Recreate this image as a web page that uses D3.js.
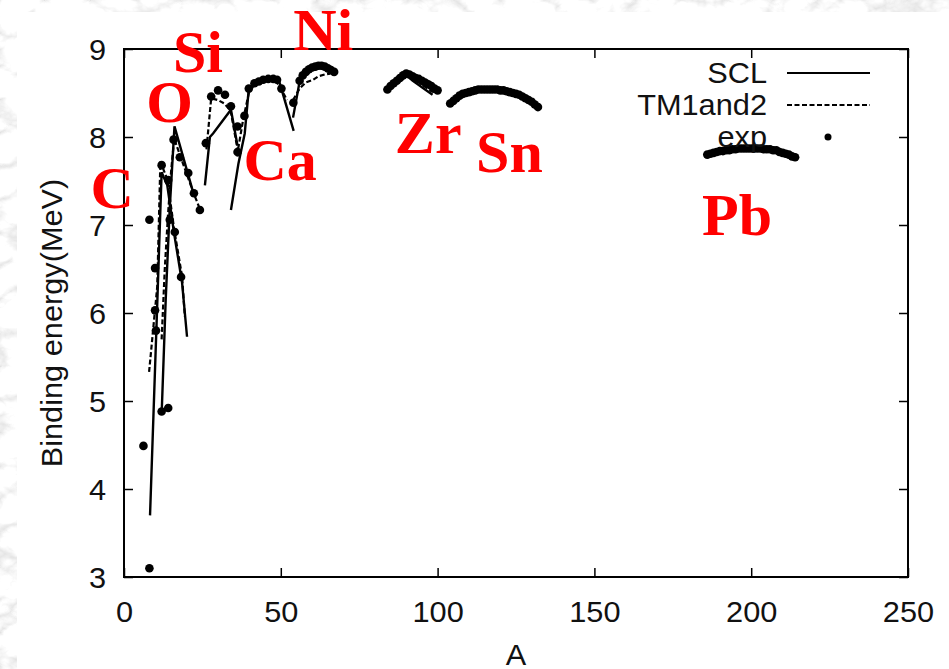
<!DOCTYPE html>
<html>
<head>
<meta charset="utf-8">
<script src="https://cdn.jsdelivr.net/npm/d3@7"></script>
<style>
  body { margin: 0; overflow: hidden; }
  svg { display: block; }
</style>
</head>
<body>
<div id="container"></div>
<script>
/* CONSTANTS AND GLOBALS */
const width = 949,
  height = 669,
  margin = {top: 49, bottom: 92, left: 124, right: 41};

/* DATA (A, binding energy per nucleon in MeV) */
const xTicks = [0, 50, 100, 150, 200, 250];
const yTicks = [3, 4, 5, 6, 7, 8, 9];

// SCL (solid line), one array per isotope chain
const sclC  = [[8.3, 3.70], [10.6, 6.10], [12.0, 7.60], [13.8, 7.45], [16.0, 6.90], [18.5, 6.35], [20.1, 5.73]];
const sclO  = [[12.0, 4.85], [13.3, 6.15], [14.6, 7.20], [16.1, 8.12], [22.3, 7.34]];
const sclSi = [[25.8, 7.45], [27.4, 8.00], [28.4, 8.04], [34.1, 8.31], [36.2, 7.90]];
const sclCa = [[34.1, 7.17], [36.5, 7.70], [38.5, 8.04], [39.8, 8.55], [42.0, 8.62], [46.0, 8.66], [49.2, 8.67], [54.1, 8.07]];
const sclNi = [[53.9, 8.22], [56.0, 8.63], [58.0, 8.72], [60.0, 8.78], [62.0, 8.80], [64.0, 8.79], [66.0, 8.75]];
const sclZr = [[84, 8.52], [86, 8.60], [88, 8.66], [90, 8.71], [92, 8.64], [94, 8.59], [96, 8.54], [98.4, 8.48]];
const sclSn = [[104, 8.37], [108, 8.47], [112, 8.52], [116, 8.53], [120, 8.52], [124, 8.49], [128, 8.43], [132, 8.33]];
const sclPb = [[186, 7.79], [192, 7.84], [198, 7.87], [204, 7.86], [208, 7.85], [214, 7.76]];

// TM1and2 (dashed line)
const tmC  = [[8.0, 5.33], [10.6, 6.30], [11.6, 7.72], [13.8, 7.52], [16.0, 6.95], [18.5, 6.42], [19.4, 5.96]];
const tmO  = [[12.0, 5.70], [13.0, 6.50], [14.0, 7.10], [15.0, 7.60], [16.0, 7.98], [18.0, 7.78], [20.0, 7.58], [22.0, 7.38], [24.0, 7.20]];
const tmSi = [[26.3, 7.86], [27.8, 8.44], [30.0, 8.42], [32.0, 8.38], [34.0, 8.30], [36.6, 7.78]];
const tmCa = [[36.0, 7.78], [38.0, 8.20], [40.0, 8.53], [42.0, 8.60], [44.0, 8.64], [46.0, 8.65], [48.0, 8.66], [50.0, 8.55], [52.0, 8.42]];
const tmNi = [[53.9, 8.42], [56.0, 8.55], [58.0, 8.62], [60.3, 8.65], [62.0, 8.69], [64.0, 8.71], [65.7, 8.72]];
const tmZr = [[84, 8.55], [86, 8.62], [88, 8.68], [90, 8.72], [92, 8.67], [94, 8.62], [96, 8.57], [98, 8.52], [100, 8.50]];
const tmSn = [[104, 8.39], [108, 8.48], [112, 8.53], [116, 8.54], [120, 8.53], [124, 8.50], [128, 8.44], [132, 8.35]];
const tmPb = [[186, 7.80], [192, 7.85], [198, 7.87], [204, 7.87], [208, 7.85], [214, 7.77]];

// exp (points)
const expC  = [[6.2, 4.49], [8.1, 7.06], [8.1, 3.10], [9.9, 6.03], [10.2, 5.80], [9.9, 6.51], [12.0, 7.68], [14.1, 7.51], [16.2, 6.92], [18.2, 6.41]];
const expO  = [[12.0, 4.88], [14.1, 4.92], [14.6, 7.06], [15.8, 7.97], [17.8, 7.77], [20.5, 7.59], [22.3, 7.36]];
const expSi = [[24.2, 7.17], [26.1, 7.93], [27.8, 8.46], [30.0, 8.53], [32.2, 8.48], [34.1, 8.35], [36.2, 8.12]];
const expCa = [[36.2, 7.83], [38.4, 8.24], [39.8, 8.55], [41.6, 8.61], [43.0, 8.63], [44.4, 8.65], [46.0, 8.66], [47.6, 8.66], [48.8, 8.65], [50.2, 8.55]];
const expNi = [[54, 8.39], [56, 8.64], [57, 8.70], [58, 8.74], [59, 8.77], [60, 8.79], [61, 8.80], [62, 8.81], [63, 8.81], [64, 8.80], [65, 8.78], [66, 8.76], [67, 8.74]];
const expZr = [[84, 8.54], [85, 8.58], [86, 8.61], [87, 8.64], [88, 8.67], [89, 8.70], [90, 8.72], [91, 8.71], [92, 8.69], [93, 8.67],
  [94, 8.66], [95, 8.64], [96, 8.62], [97, 8.60], [98, 8.58], [99, 8.55], [100, 8.53]];
const expSn = [[104, 8.38], [105, 8.41], [106, 8.44], [107, 8.47], [108, 8.49], [109, 8.50], [110, 8.51], [111, 8.52], [112, 8.53], [113, 8.54],
  [114, 8.54], [115, 8.54], [116, 8.54], [117, 8.54], [118, 8.54], [119, 8.54], [120, 8.53], [121, 8.53], [122, 8.52], [123, 8.51],
  [124, 8.50], [125, 8.49], [126, 8.48], [127, 8.46], [128, 8.44], [129, 8.42], [130, 8.40], [131, 8.37], [132, 8.34]];
const expPb = [[186, 7.80], [187, 7.81], [188, 7.82], [189, 7.83], [190, 7.84], [191, 7.84], [192, 7.85], [193, 7.85], [194, 7.86], [195, 7.86],
  [196, 7.87], [197, 7.87], [198, 7.87], [199, 7.87], [200, 7.87], [201, 7.87], [202, 7.87], [203, 7.87], [204, 7.86], [205, 7.86],
  [206, 7.86], [207, 7.85], [208, 7.85], [209, 7.83], [210, 7.82], [211, 7.81], [212, 7.80], [213, 7.78], [214, 7.77]];

const sclChains = [sclC, sclO, sclSi, sclCa, sclNi, sclZr, sclSn, sclPb];
const tmChains  = [tmC, tmO, tmSi, tmCa, tmNi, tmZr, tmSn, tmPb];
const expPoints = [].concat(expC, expO, expSi, expCa, expNi, expZr, expSn, expPb);

// element names and where they sit (A, E of the label's baseline centre)
const elements = ["C", "O", "Si", "Ca", "Ni", "Zr", "Sn", "Pb"];
const elemA = [-3.8, 14.5, 23.6, 49.8, 63.5, 97.0, 122.9, 195.5];
const elemE = [7.19, 8.17, 8.74, 7.51, 8.99, 7.82, 7.60, 6.89];

const legendNames = ["SCL", "TM1and2", "exp"];

/* SCALES */
const xScale = d3.scaleLinear()
  .domain([0, 250])
  .range([margin.left, width - margin.right]);

const yScale = d3.scaleLinear()
  .domain([3, 9])
  .range([height - margin.bottom, margin.top]);

/* SVG */
const svg = d3.select("#container")
  .append("svg")
  .attr("width", width)
  .attr("height", height);

// marble-ish grey backdrop
const defs = svg.append("defs");
const marble = defs.append("filter")
  .attr("id", "marble")
  .attr("x", 0).attr("y", 0).attr("width", 1).attr("height", 1);
marble.append("feTurbulence")
  .attr("type", "turbulence")
  .attr("baseFrequency", "0.022 0.03")
  .attr("numOctaves", 4)
  .attr("seed", 11);
marble.append("feColorMatrix")
  .attr("type", "matrix")
  .attr("values", "0.8 0 0 0 0.76  0.8 0 0 0 0.76  0.8 0 0 0 0.76  0 0 0 0 1");

svg.append("rect")
  .attr("width", width)
  .attr("height", height)
  .attr("fill", "#d6d6d6")
  .attr("filter", "url(#marble)");

svg.append("rect")
  .attr("x", 17)
  .attr("y", 12)
  .attr("width", width - 17)
  .attr("height", height - 12)
  .attr("fill", "white");

const font = "'Liberation Sans', Arial, Helvetica, sans-serif";
const stretch = "scale(1.06,1)";

/* AXES (gnuplot style: ticks inside, mirrored) */
const xAxisGroup = svg.append("g")
  .attr("transform", `translate(0, ${height - margin.bottom})`)
  .call(d3.axisBottom(xScale).tickValues(xTicks).tickSize(-9).tickPadding(24).tickFormat(d3.format("d")));

svg.append("g")
  .attr("transform", `translate(0, ${margin.top})`)
  .call(d3.axisTop(xScale).tickValues(xTicks).tickSize(-9).tickFormat(""));

const yAxisGroup = svg.append("g")
  .attr("transform", `translate(${margin.left}, 0)`)
  .call(d3.axisLeft(yScale).tickValues(yTicks).tickSize(-9).tickPadding(17).tickFormat(d3.format("d")));

svg.append("g")
  .attr("transform", `translate(${width - margin.right}, 0)`)
  .call(d3.axisRight(yScale).tickValues(yTicks).tickSize(-9).tickFormat(""));

svg.selectAll(".domain").remove();
svg.selectAll(".tick line").attr("stroke", "#000").attr("stroke-width", 1.5);
svg.selectAll(".tick text")
  .attr("fill", "#111")
  .style("font-family", font)
  .style("font-size", "29px")
  .attr("transform", stretch);
xAxisGroup.selectAll(".tick text").attr("dy", "0.72em");
yAxisGroup.selectAll(".tick text").attr("dy", "0.36em");

// frame
svg.append("rect")
  .attr("x", xScale(0))
  .attr("y", yScale(9))
  .attr("width", xScale(250) - xScale(0))
  .attr("height", yScale(3) - yScale(9))
  .attr("fill", "none")
  .attr("stroke", "#000")
  .attr("stroke-width", 2);

// axis titles
svg.append("text")
  .attr("transform", `translate(${(xScale(0) + xScale(250)) / 2}, 665) ${stretch}`)
  .attr("text-anchor", "middle")
  .style("font-family", font)
  .style("font-size", "29px")
  .attr("fill", "#111")
  .text("A");

svg.append("text")
  .attr("transform", `translate(62, ${(yScale(3) + yScale(9)) / 2 + 10}) rotate(-90) ${stretch}`)
  .attr("text-anchor", "middle")
  .style("font-family", font)
  .style("font-size", "29px")
  .attr("fill", "#111")
  .text("Binding energy(MeV)");

/* LINES */
const lineGen = d3.line()
  .x(d => xScale(d[0]))
  .y(d => yScale(d[1]));

svg.selectAll(".scl")
  .data(sclChains)
  .join("path")
  .attr("class", "scl")
  .attr("fill", "none")
  .attr("stroke", "#000")
  .attr("stroke-width", 2.4)
  .attr("d", d => lineGen(d));

svg.selectAll(".tm")
  .data(tmChains)
  .join("path")
  .attr("class", "tm")
  .attr("fill", "none")
  .attr("stroke", "#000")
  .attr("stroke-width", 2.2)
  .attr("stroke-dasharray", "5,2.5")
  .attr("d", d => lineGen(d));

/* POINTS */
svg.selectAll(".exp")
  .data(expPoints)
  .join("circle")
  .attr("class", "exp")
  .attr("cx", d => xScale(d[0]))
  .attr("cy", d => yScale(d[1]))
  .attr("r", 4.3)
  .attr("fill", "#000");

/* LEGEND */
const legend = svg.append("g");
const rowY = [73, 105, 137];
legend.selectAll("text")
  .data(legendNames)
  .join("text")
  .attr("transform", (d, i) => `translate(767, ${rowY[i] + 10}) ${stretch}`)
  .attr("text-anchor", "end")
  .style("font-family", font)
  .style("font-size", "29px")
  .attr("fill", "#111")
  .text(d => d);

legend.append("line")
  .attr("x1", 787).attr("x2", 870)
  .attr("y1", rowY[0]).attr("y2", rowY[0])
  .attr("stroke", "#000").attr("stroke-width", 2.2);
legend.append("line")
  .attr("x1", 787).attr("x2", 870)
  .attr("y1", rowY[1]).attr("y2", rowY[1])
  .attr("stroke", "#000").attr("stroke-width", 2)
  .attr("stroke-dasharray", "5,2.5");
legend.append("circle")
  .attr("cx", 828).attr("cy", rowY[2])
  .attr("r", 3.5).attr("fill", "#000");

/* ELEMENT LABELS */
svg.selectAll(".elem")
  .data(elements)
  .join("text")
  .attr("class", "elem")
  .attr("x", (d, i) => xScale(elemA[i]))
  .attr("y", (d, i) => yScale(elemE[i]))
  .attr("text-anchor", "middle")
  .style("font-family", "'Liberation Serif', 'Times New Roman', serif")
  .style("font-weight", "bold")
  .style("font-size", "60px")
  .attr("fill", "#ff0000")
  .text(d => d);
</script>
</body>
</html>
